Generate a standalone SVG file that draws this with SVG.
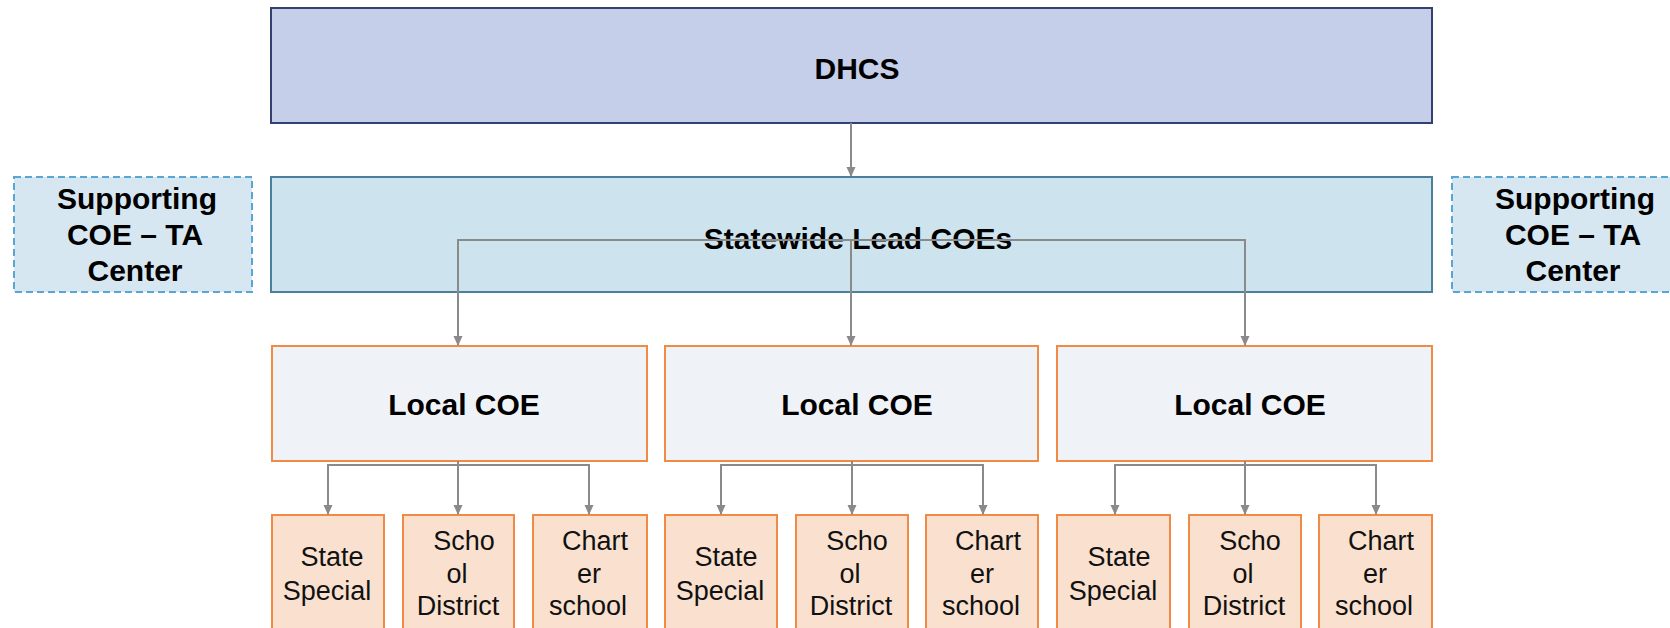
<svg xmlns="http://www.w3.org/2000/svg" width="1670" height="628" viewBox="0 0 1670 628">
<defs>
<marker id="ah" markerWidth="10" markerHeight="10" refX="9" refY="5" orient="auto" markerUnits="userSpaceOnUse">
<path d="M0,0.5 L10,5 L0,9.5 Z" fill="#8a8a8a"/>
</marker>
<style>
.hd{font-family:"Liberation Sans",Arial,sans-serif;font-weight:bold;font-size:30px;fill:#000;text-anchor:middle}
.sm{font-family:"Liberation Sans",Arial,sans-serif;font-size:27px;fill:#111;text-anchor:middle}
.dhcs{fill:#c5cfea;stroke:#34406f;stroke-width:2}
.slc{fill:#cde3ee;stroke:#4c7f9c;stroke-width:2}
.sup{fill:#d7e7f1;stroke:#5aa6d2;stroke-width:2;stroke-dasharray:7 4}
.loc{fill:#eff3f7;stroke:#f08a45;stroke-width:2}
.leaf{fill:#fae1cf;stroke:#f08a45;stroke-width:2}
.cn{fill:none;stroke:#8a8a8a;stroke-width:2}
</style>
</defs>
<rect width="1670" height="628" fill="#fff"/>

<g id="dhcs"><rect class="dhcs" x="271" y="8" width="1161" height="115"/><text class="hd" x="857" y="79">DHCS</text></g>
<g id="statewide"><rect class="slc" x="271" y="177" width="1161" height="115"/><text class="hd" x="858" y="249">Statewide Lead COEs</text></g>
<g id="support-left"><rect class="sup" x="14" y="177" width="238" height="115"/>
<text class="hd" x="137" y="209">Supporting</text><text class="hd" x="135" y="245">COE – TA</text><text class="hd" x="135" y="281">Center</text></g>
<g id="support-right"><rect class="sup" x="1452" y="177" width="238" height="115"/>
<text class="hd" x="1575" y="209">Supporting</text><text class="hd" x="1573" y="245">COE – TA</text><text class="hd" x="1573" y="281">Center</text></g>

<g id="local1"><rect class="loc" x="272" y="346" width="375" height="115"/><text class="hd" x="464" y="415">Local COE</text></g>
<g id="local2"><rect class="loc" x="665" y="346" width="373" height="115"/><text class="hd" x="857" y="415">Local COE</text></g>
<g id="local3"><rect class="loc" x="1057" y="346" width="375" height="115"/><text class="hd" x="1250" y="415">Local COE</text></g>

<g id="leaf1a"><rect class="leaf" x="272" y="515" width="112" height="130"/><text class="sm" x="332" y="566">State</text><text class="sm" x="327" y="600">Special</text></g>
<g id="leaf1b"><rect class="leaf" x="403" y="515" width="111" height="130"/><text class="sm" x="464" y="550">Scho</text><text class="sm" x="457" y="583">ol</text><text class="sm" x="458" y="615">District</text></g>
<g id="leaf1c"><rect class="leaf" x="533" y="515" width="114" height="130"/><text class="sm" x="595" y="550">Chart</text><text class="sm" x="589" y="583">er</text><text class="sm" x="588" y="615">school</text></g>

<g id="leaf2a"><rect class="leaf" x="665" y="515" width="112" height="130"/><text class="sm" x="726" y="566">State</text><text class="sm" x="720" y="600">Special</text></g>
<g id="leaf2b"><rect class="leaf" x="796" y="515" width="112" height="130"/><text class="sm" x="857" y="550">Scho</text><text class="sm" x="850" y="583">ol</text><text class="sm" x="851" y="615">District</text></g>
<g id="leaf2c"><rect class="leaf" x="926" y="515" width="112" height="130"/><text class="sm" x="988" y="550">Chart</text><text class="sm" x="982" y="583">er</text><text class="sm" x="981" y="615">school</text></g>

<g id="leaf3a"><rect class="leaf" x="1057" y="515" width="113" height="130"/><text class="sm" x="1119" y="566">State</text><text class="sm" x="1113" y="600">Special</text></g>
<g id="leaf3b"><rect class="leaf" x="1189" y="515" width="112" height="130"/><text class="sm" x="1250" y="550">Scho</text><text class="sm" x="1243" y="583">ol</text><text class="sm" x="1244" y="615">District</text></g>
<g id="leaf3c"><rect class="leaf" x="1319" y="515" width="113" height="130"/><text class="sm" x="1381" y="550">Chart</text><text class="sm" x="1375" y="583">er</text><text class="sm" x="1374" y="615">school</text></g>

<g id="connectors">
<path class="cn" d="M851,123 V176" marker-end="url(#ah)"/>
<path class="cn" d="M851,240 H458 V345" marker-end="url(#ah)"/>
<path class="cn" d="M851,240 V345" marker-end="url(#ah)"/>
<path class="cn" d="M851,240 H1245 V345" marker-end="url(#ah)"/>

<path class="cn" d="M458,461 V465 H328 V514" marker-end="url(#ah)"/>
<path class="cn" d="M458,461 V514" marker-end="url(#ah)"/>
<path class="cn" d="M458,465 H589 V514" marker-end="url(#ah)"/>

<path class="cn" d="M852,461 V465 H721 V514" marker-end="url(#ah)"/>
<path class="cn" d="M852,461 V514" marker-end="url(#ah)"/>
<path class="cn" d="M852,465 H983 V514" marker-end="url(#ah)"/>

<path class="cn" d="M1245,461 V465 H1115 V514" marker-end="url(#ah)"/>
<path class="cn" d="M1245,461 V514" marker-end="url(#ah)"/>
<path class="cn" d="M1245,465 H1376 V514" marker-end="url(#ah)"/>
</g>
</svg>
